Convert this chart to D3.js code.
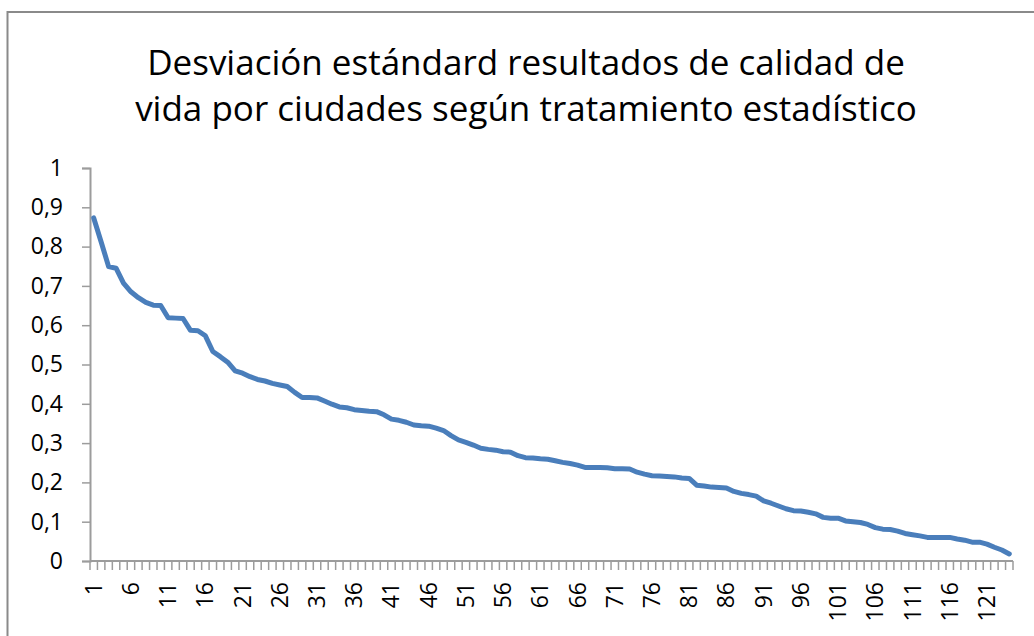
<!DOCTYPE html>
<meta charset="utf-8">

<!-- Load d3.js -->
<script src="https://d3js.org/d3.v7.min.js"></script>

<style>
  body { margin: 0; background: #fff; }
  text { font-family: "Open Sans", sans-serif; fill: #000; }
</style>

<div id="my_dataviz"></div>

<script>

  // title, split on two lines like the original
  const titleLines = [
    "Desviación estándard resultados de calidad de",
    "vida por ciudades según tratamiento estadístico"
  ];

  // cities are numbered 1..124
  const categories = d3.range(1, 125);

  // labels shown on the x axis (every 5th city)
  const xTickLabels = [1, 6, 11, 16, 21, 26, 31, 36, 41, 46, 51, 56, 61, 66, 71, 76, 81, 86, 91, 96, 101, 106, 111, 116, 121];

  // y ticks and their labels (comma decimal)
  const yTicks = [0, 0.1, 0.2, 0.3, 0.4, 0.5, 0.6, 0.7, 0.8, 0.9, 1];
  const yTickLabels = ["0", "0,1", "0,2", "0,3", "0,4", "0,5", "0,6", "0,7", "0,8", "0,9", "1"];

  // standard deviation per city
  const stdDev = [
    0.873, 0.812, 0.749, 0.745, 0.707, 0.685, 0.670, 0.658, 0.651, 0.650,
    0.619, 0.618, 0.617, 0.587, 0.586, 0.573, 0.533, 0.520, 0.506, 0.484,
    0.478, 0.469, 0.462, 0.458, 0.452, 0.448, 0.444, 0.429, 0.416, 0.416,
    0.415, 0.407, 0.399, 0.392, 0.390, 0.385, 0.383, 0.381, 0.380, 0.372,
    0.361, 0.358, 0.353, 0.346, 0.344, 0.343, 0.338, 0.332, 0.319, 0.308,
    0.302, 0.295, 0.287, 0.284, 0.282, 0.278, 0.277, 0.268, 0.263, 0.262,
    0.260, 0.259, 0.255, 0.251, 0.248, 0.244, 0.238, 0.238, 0.238, 0.237,
    0.235, 0.235, 0.234, 0.226, 0.221, 0.217, 0.216, 0.215, 0.214, 0.211,
    0.210, 0.193, 0.191, 0.188, 0.187, 0.186, 0.177, 0.172, 0.169, 0.165,
    0.153, 0.147, 0.140, 0.133, 0.128, 0.127, 0.124, 0.120, 0.111, 0.109,
    0.109, 0.102, 0.100, 0.098, 0.093, 0.085, 0.081, 0.080, 0.076, 0.070,
    0.067, 0.064, 0.060, 0.060, 0.060, 0.060, 0.056, 0.053, 0.048, 0.048,
    0.043, 0.035, 0.028, 0.018
  ];

  const W = 1034, H = 636;
  const margin = {top: 168, right: 21, bottom: 75, left: 90};
  const width = W - margin.left - margin.right,
        height = H - margin.top - margin.bottom;

  const root = d3.select("#my_dataviz")
    .append("svg")
      .attr("width", W)
      .attr("height", H);

  // chart frame (only left and top edges are in view)
  root.append("rect")
    .attr("x", 7.5)
    .attr("y", 12)
    .attr("width", W + 20)
    .attr("height", H + 20)
    .attr("fill", "none")
    .attr("stroke", "#8a8a8a")
    .attr("stroke-width", 2);

  // title
  root.append("g")
    .selectAll("text")
    .data(titleLines)
    .join("text")
      .attr("x", 526)
      .attr("y", (d, i) => 75 + i * 46)
      .attr("text-anchor", "middle")
      .style("font-size", "35px")
      .text(d => d);

  const svg = root.append("g")
    .attr("transform", `translate(${margin.left},${margin.top})`);

  // scales
  const x = d3.scaleBand()
    .domain(categories)
    .range([0, width]);

  const y = d3.scaleLinear()
    .domain([0, 1])
    .range([height, 0]);

  const axisColor = "#9c9c9c";

  // Y axis
  const yAxis = svg.append("g")
    .call(d3.axisLeft(y)
      .tickValues(yTicks)
      .tickSize(8)
      .tickPadding(19)
      .tickFormat((d, i) => yTickLabels[i]));
  yAxis.select(".domain").attr("stroke", axisColor).attr("stroke-width", 2);
  yAxis.selectAll(".tick line").attr("stroke", axisColor).attr("stroke-width", 1.5);
  yAxis.selectAll(".tick text")
    .style("font-size", "23px")
    .style("font-family", "'Open Sans', sans-serif")
    .attr("fill", "#000");

  // X axis: the line plus one tick at every category boundary
  const xAxis = svg.append("g")
    .attr("transform", `translate(0,${height})`);
  xAxis.append("line")
    .attr("x1", 0).attr("x2", width)
    .attr("stroke", axisColor).attr("stroke-width", 2);
  xAxis.selectAll(".boundary")
    .data(categories.concat([categories.length + 1]))
    .join("line")
      .attr("class", "boundary")
      .attr("x1", d => d <= categories.length ? x(d) : width)
      .attr("x2", d => d <= categories.length ? x(d) : width)
      .attr("y1", 0).attr("y2", 9)
      .attr("stroke", axisColor).attr("stroke-width", 1.5);

  // rotated category labels
  xAxis.selectAll(".xlabel")
    .data(xTickLabels)
    .join("text")
      .attr("class", "xlabel")
      .attr("transform", d => `translate(${x(d) + x.bandwidth() / 2 + 8},21) rotate(-90)`)
      .attr("text-anchor", "end")
      .style("font-size", "23px")
      .text(d => d);

  // the line
  const line = d3.line()
    .x((d, i) => x(categories[i]) + x.bandwidth() / 2)
    .y(d => y(d));

  svg.append("path")
    .datum(stdDev)
    .attr("fill", "none")
    .attr("stroke", "#4A7EBB")
    .attr("stroke-width", 5)
    .attr("stroke-linejoin", "round")
    .attr("stroke-linecap", "round")
    .attr("d", line);

</script>
